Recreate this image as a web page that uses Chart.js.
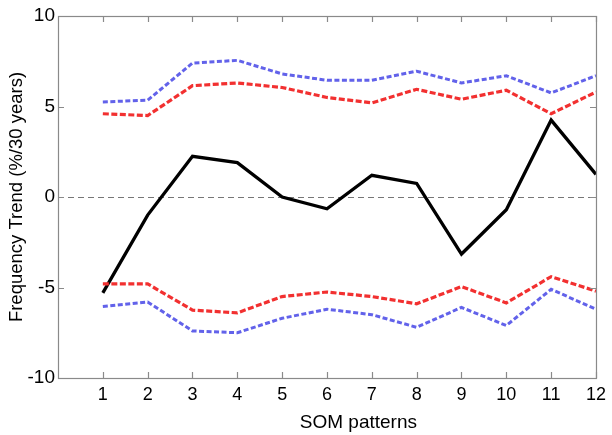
<!DOCTYPE html>
<html lang="en">
<head>
  <meta charset="UTF-8" />
  <title>SOM pattern frequency trends</title>
  <script src="https://cdn.jsdelivr.net/npm/chart.js@4.4.0/dist/chart.umd.min.js"></script>
  <style>
    html, body { margin: 0; padding: 0; background: #fff; }
    #wrap { width: 612px; height: 435px; }
  </style>
</head>
<body>
  <div id="wrap"><canvas id="trendChart"></canvas></div>
  <script>
    // SOM pattern numbers and trend values (%/30 years)
    const patterns = [1, 2, 3, 4, 5, 6, 7, 8, 9, 10, 11, 12];
    const trend    = [-5.3, -1.0, 2.25, 1.9, 0.0, -0.65, 1.2, 0.75, -3.15, -0.7, 4.25, 1.25];
    const redUpper = [4.6, 4.5, 6.15, 6.3, 6.05, 5.5, 5.2, 5.95, 5.4, 5.9, 4.6, 5.8];
    const redLower = [-4.8, -4.8, -6.25, -6.4, -5.5, -5.25, -5.5, -5.9, -4.95, -5.85, -4.4, -5.2];
    const blueUpper = [5.25, 5.35, 7.4, 7.55, 6.8, 6.45, 6.45, 6.95, 6.3, 6.7, 5.75, 6.7];
    const blueLower = [-6.05, -5.8, -7.4, -7.5, -6.7, -6.2, -6.5, -7.2, -6.1, -7.1, -5.1, -6.2];
    const xTitle = "SOM patterns";
    const yTitle = "Frequency Trend (%/30 years)";

    const pts = arr => arr.map((v, i) => ({ x: patterns[i], y: v }));

    const FONT = "'Liberation Sans', Arial, sans-serif";
    const AXIS = "#8a8a8a";

    // frame, inward tick marks, dashed zero line and the x axis title
    const framePlugin = {
      id: "frame",
      beforeDatasetsDraw(chart) {
        const { ctx, chartArea: a, scales: { y } } = chart;
        ctx.save();
        ctx.strokeStyle = "#777";
        ctx.lineWidth = 1;
        ctx.setLineDash([6, 4]);
        const y0 = Math.round(y.getPixelForValue(0)) + 0.5;
        ctx.beginPath();
        ctx.moveTo(a.left, y0);
        ctx.lineTo(a.right, y0);
        ctx.stroke();
        ctx.restore();
      },
      afterDatasetsDraw(chart) {
        const { ctx, chartArea: a, scales: { x, y } } = chart;
        ctx.save();
        ctx.strokeStyle = AXIS;
        ctx.lineWidth = 1.2;
        ctx.strokeRect(a.left + 0.5, a.top + 0.5, a.right - a.left, a.bottom - a.top);
        ctx.beginPath();
        patterns.forEach(p => {
          const px = Math.round(x.getPixelForValue(p)) + 0.5;
          ctx.moveTo(px, a.bottom); ctx.lineTo(px, a.bottom - 6);
          ctx.moveTo(px, a.top); ctx.lineTo(px, a.top + 6);
        });
        [-10, -5, 0, 5, 10].forEach(v => {
          const py = Math.round(y.getPixelForValue(v)) + 0.5;
          ctx.moveTo(a.left, py); ctx.lineTo(a.left + 6, py);
          ctx.moveTo(a.right, py); ctx.lineTo(a.right - 6, py);
        });
        ctx.stroke();

        // x title sits a bit right of the plot centre in the original
        ctx.fillStyle = "#000";
        ctx.font = "19px " + FONT;
        ctx.textAlign = "center";
        ctx.textBaseline = "alphabetic";
        ctx.fillText(xTitle, x.getPixelForValue(6.7), a.bottom + 50);
        ctx.restore();
      }
    };

    new Chart(document.getElementById("trendChart"), {
      type: "line",
      data: {
        datasets: [
          { label: "blue upper", data: pts(blueUpper), borderColor: "#6262ea", borderWidth: 3, borderDash: [5, 2.5] },
          { label: "red upper", data: pts(redUpper), borderColor: "#f23030", borderWidth: 3.2, borderDash: [6, 2.5] },
          { label: "red lower", data: pts(redLower), borderColor: "#f23030", borderWidth: 3.2, borderDash: [6, 2.5] },
          { label: "blue lower", data: pts(blueLower), borderColor: "#6262ea", borderWidth: 3, borderDash: [5, 2.5] },
          { label: "trend", data: pts(trend), borderColor: "#000", borderWidth: 3.3 }
        ]
      },
      options: {
        responsive: true,
        maintainAspectRatio: false,
        animation: false,
        layout: { padding: { top: 16, right: 10, left: 0, bottom: 0 } },
        elements: { point: { radius: 0 }, line: { tension: 0, fill: false } },
        plugins: { legend: { display: false }, tooltip: { enabled: false } },
        scales: {
          x: {
            type: "linear",
            min: 0,
            max: 12,
            grid: { display: false, drawTicks: false },
            border: { display: false },
            ticks: {
              stepSize: 1,
              padding: 6,
              color: "#000",
              font: { family: FONT, size: 18 },
              callback: v => (v === 0 ? "" : v)
            },
            afterFit: s => { s.height = 57; }
          },
          y: {
            min: -10,
            max: 10,
            grid: { display: false, drawTicks: false },
            border: { display: false },
            ticks: {
              stepSize: 5,
              padding: 3,
              color: "#000",
              font: { family: FONT, size: 19 }
            },
            title: {
              display: true,
              text: yTitle,
              color: "#000",
              font: { family: FONT, size: 18.5 },
              padding: { top: 6, bottom: 4 }
            },
            afterFit: s => { s.width = 58; }
          }
        }
      },
      plugins: [framePlugin]
    });
  </script>
</body>
</html>
